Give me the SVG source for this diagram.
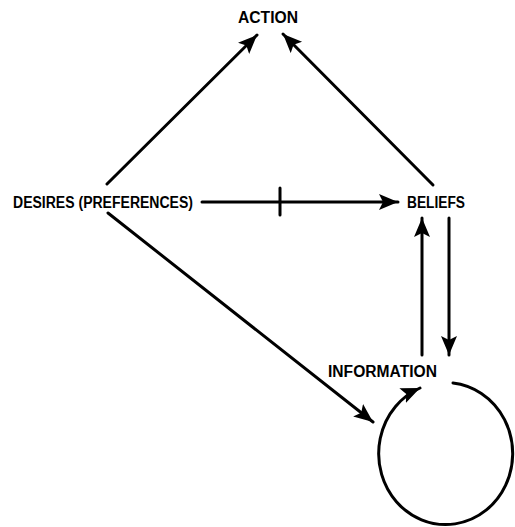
<svg xmlns="http://www.w3.org/2000/svg" width="515" height="527" viewBox="0 0 515 527">
<defs>
<style>
.lbl{font-family:"Liberation Sans",Arial,sans-serif;font-weight:bold;font-size:16px;fill:#000}
.c{stroke:#000;stroke-width:3;fill:none;stroke-linecap:round}
</style>
<marker id="ah" markerUnits="userSpaceOnUse" markerWidth="22" markerHeight="18" refX="19" refY="8" orient="auto">
<path d="M0,0 L19,8 L0,16 L4,8 z" fill="#000"/>
</marker>
</defs>
<rect width="515" height="527" fill="#fff"/>
<g id="action"><text class="lbl" x="238" y="23" textLength="60" lengthAdjust="spacingAndGlyphs">ACTION</text></g>
<g id="desires"><text class="lbl" x="13" y="208" textLength="180" lengthAdjust="spacingAndGlyphs">DESIRES (PREFERENCES)</text></g>
<g id="beliefs"><text class="lbl" x="407" y="208" textLength="58" lengthAdjust="spacingAndGlyphs">BELIEFS</text></g>
<g id="information"><text class="lbl" x="328" y="377" textLength="109" lengthAdjust="spacingAndGlyphs">INFORMATION</text></g>
<g id="connectors">
<line class="c" x1="107" y1="184" x2="257" y2="35" marker-end="url(#ah)"/>
<line class="c" x1="433" y1="185" x2="283" y2="34" marker-end="url(#ah)"/>
<line class="c" x1="202" y1="202" x2="398" y2="202" marker-end="url(#ah)"/>
<line class="c" x1="280" y1="188" x2="280" y2="215"/>
<line class="c" x1="108" y1="213" x2="373" y2="422" marker-end="url(#ah)"/>
<line class="c" x1="422" y1="355" x2="422" y2="218" marker-end="url(#ah)"/>
<line class="c" x1="449" y1="218" x2="449" y2="355" marker-end="url(#ah)"/>
<path class="c" d="M453,383 A67,71 0 1 1 420,388" marker-end="url(#ah)"/>
</g>
</svg>
